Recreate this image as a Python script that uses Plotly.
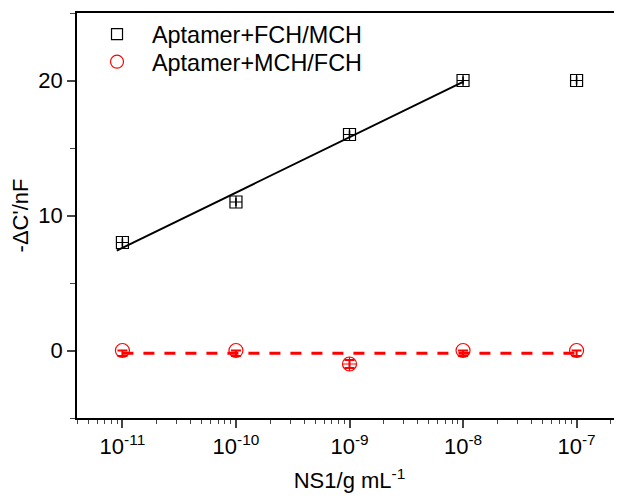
import numpy as np
import plotly.graph_objects as go

conc = [1e-11, 1e-10, 1e-9, 1e-8, 1e-7]
fch_mch = [8, 11, 16, 20, 20]
fch_mch_err = [0.3, 0.3, 0.3, 0.3, 0.3]
mch_fch = [0, 0, -1, 0, 0]
mch_fch_err_plus = [0.0, 0.0, 0.3, 0.0, 0.0]
mch_fch_err_minus = [0.4, 0.4, 0.3, 0.4, 0.4]
tick_vals = [1e-11, 1e-10, 1e-9, 1e-8, 1e-7]
tick_text = ["10<sup>-11</sup>", "10<sup>-10</sup>", "10<sup>-9</sup>", "10<sup>-8</sup>", "10<sup>-7</sup>"]
series_names = ["Aptamer+FCH/MCH", "Aptamer+MCH/FCH"]

logc = np.log10(conc)
# linear fits in log space
p1 = np.polyfit(logc[:4], fch_mch[:4], 1)
fit1_x = np.array([-11.05, -8.0])
p2 = np.polyfit(logc, mch_fch, 1)
fit2_x = np.array([-11.0, -7.0])

red_symbols = ["circle-open", "circle-open", "circle-cross-open", "circle-open", "circle-open"]

font = "Liberation Sans, Arial, sans-serif"
fig = go.Figure()
fig.add_trace(go.Scatter(x=10 ** fit1_x, y=np.polyval(p1, fit1_x), mode="lines",
                         line=dict(color="black", width=2), showlegend=False))
fig.add_trace(go.Scatter(x=10 ** fit2_x, y=np.polyval(p2, fit2_x), mode="lines",
                         line=dict(color="red", width=3, dash="11px,10px"), showlegend=False))
fig.add_trace(go.Scatter(x=conc, y=fch_mch, mode="markers", name=series_names[0], showlegend=False,
                         marker=dict(symbol="square-cross-open", size=12, color="black", line=dict(width=1.2)),
                         error_y=dict(type="data", array=fch_mch_err, color="black", thickness=1.5, width=0)))
fig.add_trace(go.Scatter(x=conc, y=mch_fch, mode="markers", name=series_names[1], showlegend=False,
                         marker=dict(symbol=red_symbols, size=14, color="red", line=dict(width=1.2)),
                         error_y=dict(type="data", symmetric=False, array=mch_fch_err_plus,
                                      arrayminus=mch_fch_err_minus, color="red", thickness=2, width=5)))
# legend entries (plain symbols, as in the reference key)
fig.add_trace(go.Scatter(x=[None], y=[None], mode="markers", name=series_names[0], legend="legend",
                         marker=dict(symbol="square-open", size=11, color="black", line=dict(width=1.2))))
fig.add_trace(go.Scatter(x=[None], y=[None], mode="markers", name=series_names[1], legend="legend2",
                         marker=dict(symbol="circle-open", size=13, color="red", line=dict(width=1.2))))

leg_common = dict(xanchor="left", yanchor="middle", bgcolor="rgba(0,0,0,0)",
                  font=dict(size=23.4), itemwidth=60)

fig.update_layout(
    width=614, height=485,
    margin=dict(l=69, r=0, t=5, b=75),
    plot_bgcolor="white", paper_bgcolor="white",
    font=dict(family=font, size=22, color="black"),
    legend=dict(x=0.0092, y=0.947, **leg_common),
    legend2=dict(x=0.0092, y=0.879, **leg_common),
    xaxis=dict(type="log", range=[-11.4, -6.6], tickvals=tick_vals, ticktext=tick_text,
               ticks="outside", ticklen=8, tickwidth=1.5, showline=True, linecolor="black",
               linewidth=1.5, mirror=True, showgrid=False, zeroline=False, automargin=False,
               tickfont=dict(size=22),
               minor=dict(ticks="outside", ticklen=4, tickwidth=1, dtick="D1"),
               title=dict(text="NS1/g mL<sup>-1</sup>", standoff=23, font=dict(size=22))),
    yaxis=dict(range=[-5, 25], tickvals=[0, 10, 20], ticks="outside", ticklen=8, tickwidth=1.5,
               showline=True, linecolor="black", linewidth=1.5, showgrid=False, zeroline=False,
               automargin=False, tickfont=dict(size=22),
               minor=dict(ticks="outside", ticklen=5, tickwidth=1, dtick=5, tick0=0),
               title=dict(text="-ΔC'/nF", standoff=4, font=dict(size=22))),
)
fig.write_html("out.html")
